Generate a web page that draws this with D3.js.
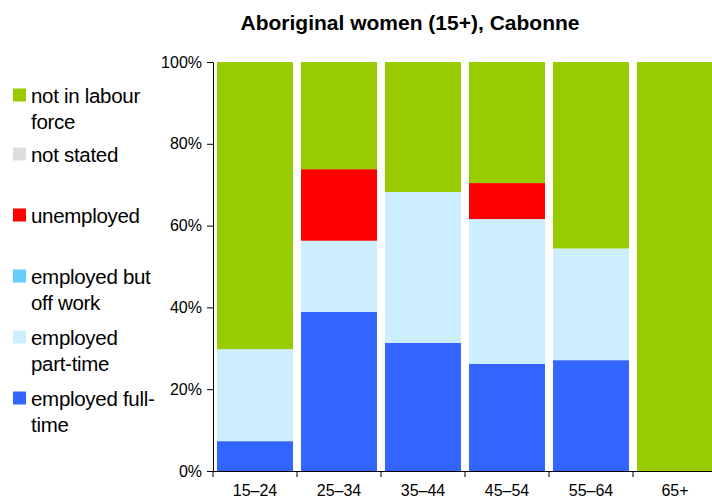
<!DOCTYPE html>
<html lang="en">
<head>
<meta charset="UTF-8"/>
<title>Aboriginal women (15+), Cabonne</title>
<script src="https://d3js.org/d3.v7.min.js"></script>
<style>
  body { margin: 0; background: #fff; }
  svg text { font-family: "Liberation Sans", Arial, sans-serif; fill: #000; }
  .axis path, .axis line { stroke: #000; }
</style>
</head>
<body>
<div id="chart"></div>
<script>
// age groups along the bottom
var ageGroups = ["15\u201324", "25\u201334", "35\u201344", "45\u201354", "55\u201364", "65+"];

// percentages per age group
var fullTime   = [7.3, 38.9, 31.3, 26.2, 27.1, 0];
var partTime   = [22.5, 17.4, 36.9, 35.4, 27.3, 0];
var offWork    = [0, 0, 0, 0, 0, 0];
var unemployed = [0, 17.5, 0, 8.8, 0, 0];
var notStated  = [0, 0, 0, 0, 0, 0];
var notInLF    = [70.2, 26.2, 31.8, 29.6, 45.6, 100];

var yTicks = [0, 20, 40, 60, 80, 100];

// series in stacking order (bottom first)
var series = [
  {key: "fullTime",   label: ["employed full-", "time"],   color: "#3366ff", values: fullTime},
  {key: "partTime",   label: ["employed", "part-time"],    color: "#cceeff", values: partTime},
  {key: "offWork",    label: ["employed but", "off work"], color: "#66ccff", values: offWork},
  {key: "unemployed", label: ["unemployed"],               color: "#ff0000", values: unemployed},
  {key: "notStated",  label: ["not stated"],               color: "#dddddd", values: notStated},
  {key: "notInLF",    label: ["not in labour", "force"],   color: "#99cc00", values: notInLF}
];

var w = 712, h = 504;
var plot = {left: 213, top: 62, bottom: 471, step: 84};

var rows = ageGroups.map(function(g, i) {
  var r = {group: g};
  series.forEach(function(s) { r[s.key] = s.values[i]; });
  return r;
});

var stack = d3.stack().keys(series.map(function(s) { return s.key; }));
var layers = stack(rows);

var x = d3.scaleBand()
  .domain(ageGroups)
  .range([plot.left, plot.left + plot.step * ageGroups.length])
  .paddingInner(8 / 84)
  .paddingOuter(4 / 84);

var y = d3.scaleLinear().domain([0, 100]).range([plot.bottom, plot.top]);

var svg = d3.select("#chart").append("svg")
  .attr("width", w)
  .attr("height", h);

// title
svg.append("text")
  .attr("x", 410)
  .attr("y", 30)
  .attr("text-anchor", "middle")
  .style("font-weight", "bold")
  .style("font-size", "21px")
  .text("Aboriginal women (15+), Cabonne");

// bars
svg.append("g").selectAll("g")
  .data(layers)
  .join("g")
  .attr("fill", function(d, i) { return series[i].color; })
  .selectAll("rect")
  .data(function(d) { return d; })
  .join("rect")
  .attr("x", function(d) { return x(d.data.group); })
  .attr("width", x.bandwidth())
  .attr("y", function(d) { return y(d[1]); })
  .attr("height", function(d) { return y(d[0]) - y(d[1]); });

// y axis
var yAxis = d3.axisLeft(y)
  .tickValues(yTicks)
  .tickFormat(function(d) { return d + "%"; })
  .tickSize(6)
  .tickSizeOuter(0)
  .tickPadding(5);

svg.append("g")
  .attr("class", "axis")
  .attr("transform", "translate(" + plot.left + ",0)")
  .call(yAxis)
  .call(function(g) { g.selectAll("text").style("font-size", "16px"); });

// x axis: labels at band centres, ticks at band boundaries
var xAxis = d3.axisBottom(x).tickSize(0).tickSizeOuter(0).tickPadding(14);
svg.append("g")
  .attr("class", "axis")
  .attr("transform", "translate(0," + plot.bottom + ")")
  .call(xAxis)
  .call(function(g) { g.selectAll("text").style("font-size", "16px"); });

svg.append("g")
  .attr("class", "axis")
  .selectAll("line")
  .data(ageGroups)
  .join("line")
  .attr("x1", function(d) { return x(d) - x.step() * x.paddingInner() / 2; })
  .attr("x2", function(d) { return x(d) - x.step() * x.paddingInner() / 2; })
  .attr("y1", plot.bottom)
  .attr("y2", plot.bottom + 6);

// legend, top to bottom
var legendY = [95, 154, 215, 276, 337, 398];
var legend = svg.append("g").selectAll("g")
  .data(series.slice().reverse())
  .join("g")
  .attr("transform", function(d, i) { return "translate(13," + legendY[i] + ")"; });

legend.append("rect")
  .attr("x", 0)
  .attr("y", -6.5)
  .attr("width", 13)
  .attr("height", 13)
  .attr("fill", function(d) { return d.color; });

legend.append("text")
  .attr("x", 18)
  .attr("y", 7.5)
  .style("font-size", "20.5px")
  .style("letter-spacing", "-0.3px")
  .selectAll("tspan")
  .data(function(d) { return d.label; })
  .join("tspan")
  .attr("x", 18)
  .attr("dy", function(d, i) { return i === 0 ? 0 : 26; })
  .text(function(d) { return d; });
</script>
</body>
</html>
